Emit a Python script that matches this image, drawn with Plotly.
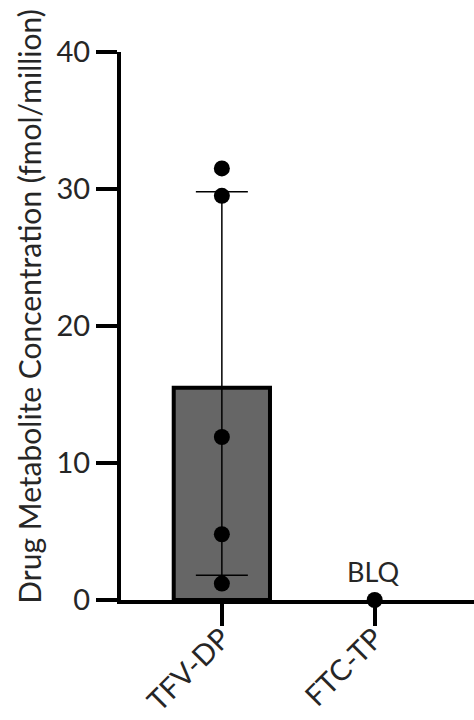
import plotly.graph_objects as go

categories = ["TFV-DP", "FTC-TP"]
bar_means = [15.5, 0.0]
err_plus = [14.3, 0.0]
err_minus = [13.7, 0.0]
tfv_points = [31.5, 29.5, 11.9, 4.8, 1.2]
ftc_points = [0.0]
y_ticks = [0, 10, 20, 30, 40]
y_title = "Drug Metabolite Concentration (fmol/million)"

FONT = "Lato"
TXT = "#262626"

fig = go.Figure()
fig.add_trace(go.Bar(
    x=[categories[0]], y=[bar_means[0]],
    width=0.63,
    marker=dict(color="#666666", line=dict(color="black", width=4)),
    error_y=dict(type="data", array=[err_plus[0]], arrayminus=[err_minus[0]],
                 symmetric=False, visible=True,
                 color="black", thickness=1.5, width=26),
    showlegend=False,
))
fig.add_trace(go.Scatter(
    x=[categories[0]] * len(tfv_points), y=tfv_points,
    mode="markers", marker=dict(color="black", size=16),
    showlegend=False, cliponaxis=False,
))
fig.add_trace(go.Scatter(
    x=[categories[1]] * len(ftc_points), y=ftc_points,
    mode="markers", marker=dict(color="black", size=16),
    showlegend=False, cliponaxis=False,
))
fig.add_annotation(x=categories[1], y=0, text="BLQ", showarrow=False,
                   yshift=29, xshift=-2, font=dict(family=FONT, size=27, color=TXT))
fig.add_annotation(xref="paper", yref="paper", x=-0.261, y=0.535,
                   text=y_title, textangle=-90, showarrow=False,
                   xanchor="center", yanchor="middle",
                   font=dict(family=FONT, size=30, color=TXT))

fig.update_layout(
    width=474, height=720,
    margin=dict(l=121, r=0, t=52, b=120, autoexpand=False),
    plot_bgcolor="white", paper_bgcolor="white",
    font=dict(family=FONT, color=TXT),
)
fig.update_xaxes(
    type="category", categoryorder="array", categoryarray=categories,
    range=[-0.66, 1.65], automargin=False,
    showline=True, linecolor="black", linewidth=4,
    ticks="outside", ticklen=22, tickwidth=4, tickcolor="black",
    tickangle=-45, tickfont=dict(family=FONT, size=29, color=TXT),
    ticklabelstandoff=-16,
    showgrid=False, zeroline=False,
)
fig.update_yaxes(
    range=[0, 40], tickvals=y_ticks, automargin=False,
    showline=True, linecolor="black", linewidth=4,
    ticks="outside", ticklen=21, tickwidth=4, tickcolor="black",
    tickfont=dict(family=FONT, size=29, color=TXT),
    showgrid=False, zeroline=False,
)
fig.write_html("out.html")
